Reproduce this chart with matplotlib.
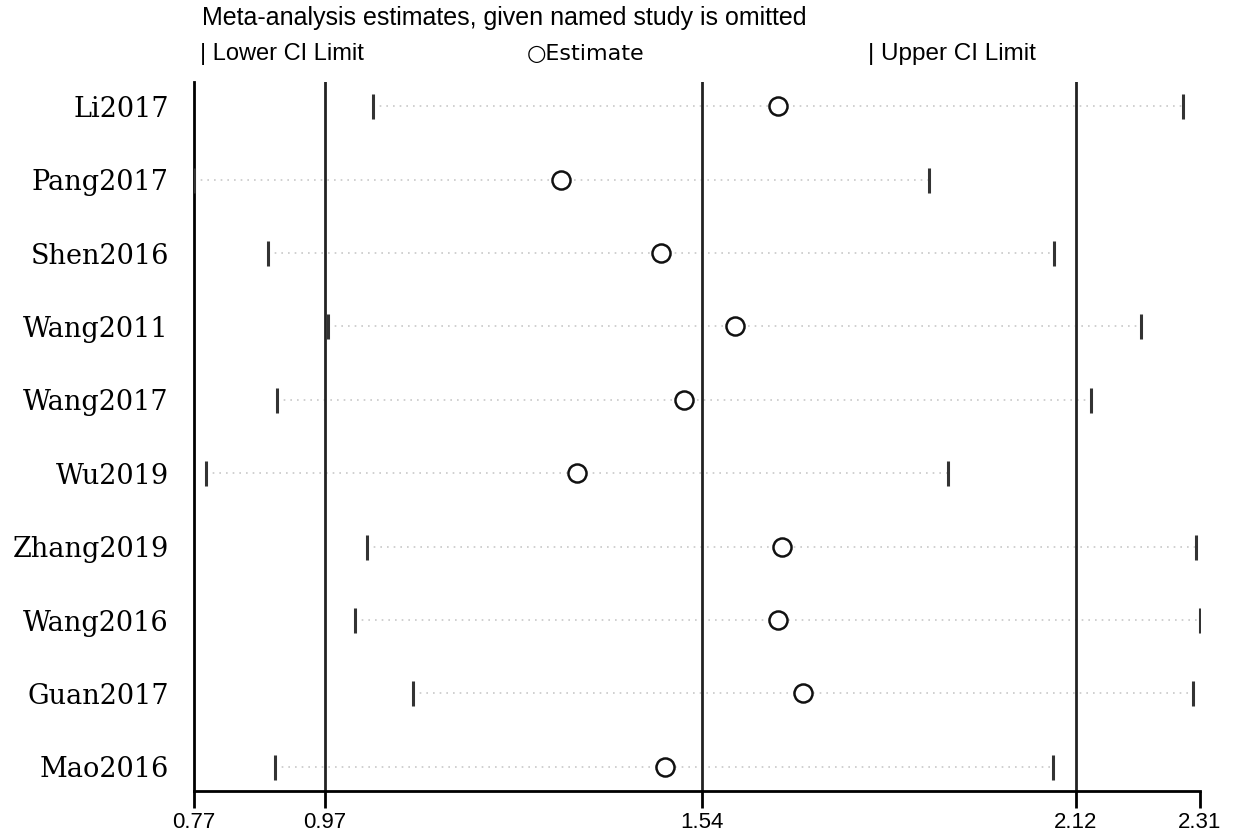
import matplotlib
matplotlib.use("Agg")
import matplotlib.pyplot as plt

studies = ["Li2017", "Pang2017", "Shen2016", "Wang2011", "Wang2017",
           "Wu2019", "Zhang2019", "Wang2016", "Guan2017", "Mao2016"]
lower = [1.044, 0.770, 0.883, 0.975, 0.897, 0.788, 1.035, 1.016, 1.105, 0.894]
estimate = [1.664, 1.332, 1.485, 1.598, 1.520, 1.356, 1.670, 1.664, 1.702, 1.491]
upper = [2.284, 1.895, 2.087, 2.220, 2.143, 1.924, 2.304, 2.310, 2.299, 2.085]

overall = [0.97, 1.548, 2.12]
tick_vals = [0.77, 0.97, 1.548, 2.12, 2.31]
tick_labels = ["0.77", "0.97", "1.54", "2.12", "2.31"]

fig = plt.figure(figsize=(12.38, 8.4), dpi=100)
ax = fig.add_axes([0.1567, 0.0583, 0.9693 - 0.1567, 0.9024 - 0.0583])

ypos = list(range(1, len(studies) + 1))

for y, lo, hi in zip(ypos, lower, upper):
    ax.plot([lo, hi], [y, y], linestyle=(0, (1, 3)), color="#c8c8c8", lw=1.2, zorder=1)

for v in overall:
    ax.axvline(v, color="#222222", lw=2, zorder=2)

ax.plot(lower, ypos, linestyle="none", marker="|", markersize=18, mew=2.2, color="#333333", zorder=3)
ax.plot(upper, ypos, linestyle="none", marker="|", markersize=18, mew=2.2, color="#333333", zorder=3)
ax.plot(estimate, ypos, linestyle="none", marker="o", markersize=13, mfc="white", mec="#111111", mew=1.8, zorder=4)

ax.set_xlim(0.77, 2.31)
ax.set_ylim(10.33, 0.67)
ax.set_yticks(ypos)
ax.set_yticklabels(studies, fontfamily="DejaVu Serif", fontsize=19.5)
ax.tick_params(axis="y", length=0, pad=18)
ax.set_xticks(tick_vals)
ax.set_xticklabels(tick_labels, fontfamily="Liberation Sans", fontsize=16)
ax.tick_params(axis="x", length=12, width=2, direction="out", pad=3)

for s in ["top", "right"]:
    ax.spines[s].set_visible(False)
ax.spines["left"].set_linewidth(2)
ax.spines["bottom"].set_linewidth(2)

fig.text(202 / 1238, 1 - 18 / 840, "Meta-analysis estimates, given named study is omitted",
         fontfamily="Liberation Sans", fontsize=18, va="center", ha="left")
fig.text(200 / 1238, 1 - 54 / 840, "| Lower CI Limit", fontfamily="Liberation Sans",
         fontsize=17, va="center", ha="left")
fig.text(527 / 1238, 1 - 54 / 840, "\u25cbEstimate", fontfamily="DejaVu Sans",
         fontsize=16, va="center", ha="left")
fig.text(868 / 1238, 1 - 54 / 840, "| Upper CI Limit", fontfamily="Liberation Sans",
         fontsize=17.5, va="center", ha="left")

fig.savefig("out.png", dpi=100, facecolor="white")
